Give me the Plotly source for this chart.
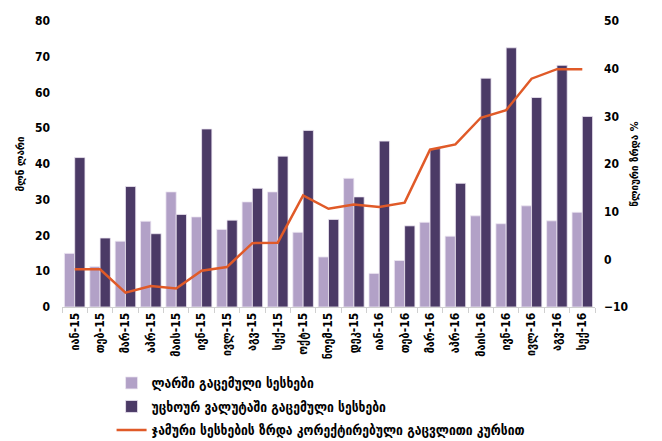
import plotly.graph_objects as go

categories = ["იან-15", "თებ-15", "მარ-15", "აპრ-15", "მაის-15", "ივნ-15", "ივლ-15",
              "აგვ-15", "სექ-15", "ოქტ-15", "ნოემ-15", "დეკ-15", "იან-16", "თებ-16",
              "მარ-16", "აპრ-16", "მაის-16", "ივნ-16", "ივლ-16", "აგვ-16", "სექ-16"]
gel_loans = [15.0, 11.3, 18.4, 24.0, 32.2, 25.2, 21.7, 29.4, 32.2, 20.9, 14.0,
             36.0, 9.4, 13.0, 23.7, 19.8, 25.5, 23.3, 28.3, 24.1, 26.5]
fx_loans = [41.8, 19.3, 33.7, 20.5, 25.9, 49.8, 24.3, 33.2, 42.2, 49.4, 24.5,
            30.8, 46.4, 22.7, 44.3, 34.6, 64.0, 72.5, 58.6, 67.6, 53.3]
growth = [-2.1, -2.1, -7.0, -5.6, -6.1, -2.4, -1.6, 3.4, 3.5, 13.4, 10.6,
          11.5, 11.0, 11.9, 23.0, 24.1, 29.7, 31.3, 37.9, 39.9, 39.9]

name_gel = "ლარში გაცემული სესხები"
name_fx = "უცხოურ ვალუტაში გაცემული სესხები"
name_growth = "ჯამური სესხების ზრდა კორექტირებული გაცვლითი კურსით"

font_family = "DejaVu Sans Condensed, DejaVu Sans, sans-serif"
bold = dict(family=font_family, size=12, color="black", weight="bold")

fig = go.Figure()
fig.add_trace(go.Bar(x=categories, y=gel_loans, name=name_gel, legendgroup="a",
                     marker=dict(color="#B2A1C7", line=dict(color="#EDE7F2", width=0.8))))
fig.add_trace(go.Bar(x=categories, y=fx_loans, name=name_fx, legendgroup="b",
                     marker=dict(color="#4B3A66", line=dict(color="#EDE7F2", width=0.8))))
fig.add_trace(go.Scatter(x=categories, y=growth, name=name_growth, legendgroup="c",
                         mode="lines", yaxis="y2",
                         line=dict(color="#E05A28", width=2.5)))

fig.update_layout(
    width=654, height=433,
    margin=dict(l=54, r=67, t=13, b=134, autoexpand=False),
    paper_bgcolor="white", plot_bgcolor="white",
    barmode="group", bargap=0.19, bargroupgap=0,
    font=dict(family=font_family, size=12, color="black"),
    showlegend=True,
    legend=dict(x=0.093, y=-0.212, xanchor="left", yanchor="top",
                tracegroupgap=3, font=dict(size=13.5, family=font_family, weight="bold"),
                itemwidth=30, bgcolor="rgba(0,0,0,0)"),
    xaxis=dict(type="category", showline=True, linecolor="#D0D0D0", linewidth=1,
               ticks="outside", tickson="boundaries", ticklen=5, tickcolor="#D0D0D0",
               tickangle=-90, tickfont=bold, showgrid=False),
    yaxis=dict(range=[0, 80], dtick=10, showgrid=False, zeroline=False,
               showline=False, tickfont=bold, ticklabelstandoff=11,
               title=dict(text="მლნ ლარი", font=dict(size=11, weight="bold"), standoff=8)),
    yaxis2=dict(range=[-10, 50], dtick=10, overlaying="y", side="right",
                showgrid=False, zeroline=False, showline=False, tickfont=bold,
                ticklabelstandoff=8,
                title=dict(text="წლიური ზრდა %", font=dict(size=11, weight="bold"), standoff=3)),
)

fig.write_html("out.html")
